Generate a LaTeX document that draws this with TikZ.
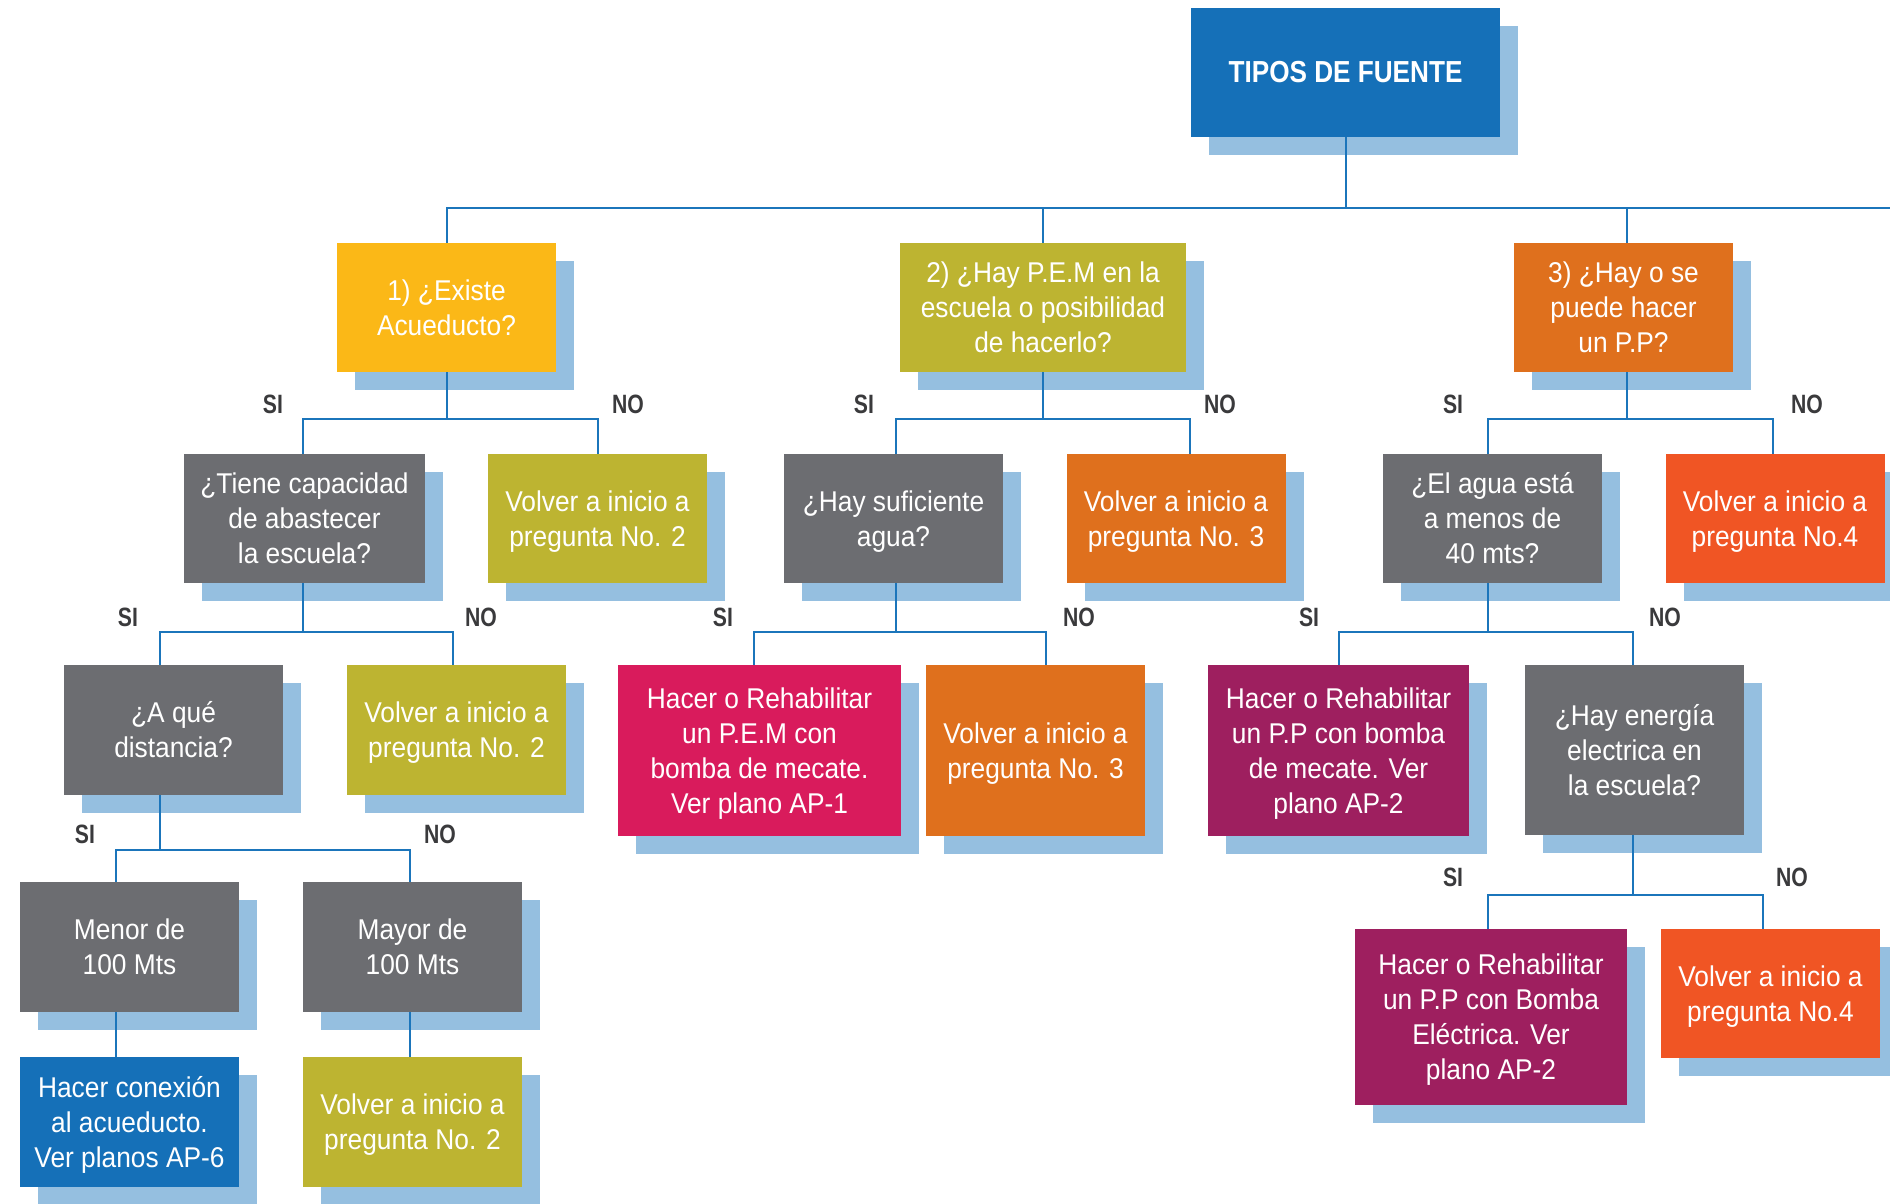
\documentclass[tikz,border=0pt]{standalone}
\usepackage{fontspec}
\setmainfont[FakeStretch=0.92]{Liberation Sans}
\newfontfamily\labfam[FakeStretch=0.8]{Liberation Sans}
\newfontfamily\titfam[FakeStretch=0.86]{Liberation Sans}
\usetikzlibrary{shadows}
\definecolor{cblue}{HTML}{1570B8}
\definecolor{cshadow}{HTML}{95BFE0}
\definecolor{cyellow}{HTML}{FBB817}
\definecolor{colive}{HTML}{BDB431}
\definecolor{corange}{HTML}{DF701D}
\definecolor{cgray}{HTML}{6C6D71}
\definecolor{cred}{HTML}{F05524}
\definecolor{cpink}{HTML}{D91B5C}
\definecolor{cpurple}{HTML}{9E1F5F}
\definecolor{cline}{HTML}{1B75BB}
\definecolor{clab}{HTML}{3A3A3C}
\newcommand\stems[2]{\coordinate (#1t) at ([xshift=#2]#1.north);\coordinate (#1b) at ([xshift=#2]#1.south);}
\begin{document}
\begin{tikzpicture}[x=0.5pt,y=-0.5pt,
  box/.style={rectangle, inner sep=0pt, align=center, text=white,
    font=\fontsize{14.3pt}{17.5pt}\selectfont,
    minimum width=109.5pt, minimum height=64.5pt,
    drop shadow={shadow xshift=9pt, shadow yshift=-9pt, fill=cshadow, opacity=1}},
  conn/.style={draw=cline, line width=1pt},
  lab/.style={inner sep=0pt, text=clab, font=\labfam\bfseries\fontsize{13.25pt}{15pt}\selectfont}]
\useasboundingbox[fill=white] (0,0) rectangle (1890,1204);
% boxes
\node[box, fill=cblue, minimum width=154.5pt, font=\titfam\bfseries\fontsize{15.2pt}{18pt}\selectfont] (tipos) at (1345.5,72.5) {TIPOS DE FUENTE};
\node[box, fill=cyellow] (q1) at (446.5,307.5) {1) ¿Existe\\Acueducto?};
\node[box, fill=colive, minimum width=143pt] (q2) at (1043,307.5) {2) ¿Hay P.E.M en la\\escuela o posibilidad\\de hacerlo?};
\node[box, fill=corange] (q3) at (1623.5,307.5) {3) ¿Hay o se\\puede hacer\\un P.P?};
\node[box, fill=cgray, minimum width=120.5pt] (tiene) at (304.5,518.5) {¿Tiene capacidad\\de abastecer\\la escuela?};
\node[box, fill=colive] (v2a) at (597.5,518.5) {Volver a inicio a\\\smash{pregunta No. 2}};
\node[box, fill=cgray] (suf) at (893.5,518.5) {¿Hay suficiente\\\smash{agua?}};
\node[box, fill=corange] (v3a) at (1176,518.5) {Volver a inicio a\\\smash{pregunta No. 3}};
\node[box, fill=cgray] (agua) at (1492.5,518.5) {¿El agua está\\a menos de\\40 mts?};
\node[box, fill=cred] (v4a) at (1775,518.5) {Volver a inicio a\\\smash{pregunta No.4}};
\node[box, fill=cgray, minimum height=65pt] (dist) at (173.5,730) {¿A qué\\distancia?};
\node[box, fill=colive, minimum height=65pt] (v2b) at (456.5,730) {Volver a inicio a\\\smash{pregunta No. 2}};
\node[box, fill=cpink, minimum width=141.5pt, minimum height=85.5pt] (pem) at (759.5,750.5) {Hacer o Rehabilitar\\un P.E.M con\\bomba de mecate.\\\smash{Ver plano AP-1}};
\node[box, fill=corange, minimum height=85.5pt] (v3b) at (1035.5,750.5) {Volver a inicio a\\\smash{pregunta No. 3}};
\node[box, fill=cpurple, minimum width=130.5pt, minimum height=85.5pt] (ppm) at (1338.5,750.5) {Hacer o Rehabilitar\\un P.P con bomba\\de mecate. Ver\\\smash{plano AP-2}};
\node[box, fill=cgray, minimum height=85pt] (ener) at (1634.5,750) {¿Hay energía\\electrica en\\la escuela?};
\node[box, fill=cgray, minimum height=64.75pt] (menor) at (129.5,946.75) {Menor de\\100 Mts};
\node[box, fill=cgray, minimum height=64.75pt] (mayor) at (412.5,946.75) {Mayor de\\100 Mts};
\node[box, fill=cblue, minimum height=64.75pt] (conex) at (129.5,1121.75) {Hacer conexión\\al acueducto.\\\smash{Ver planos AP-6}};
\node[box, fill=colive, minimum height=64.75pt] (v2c) at (412.5,1121.75) {Volver a inicio a\\\smash{pregunta No. 2}};
\node[box, fill=cpurple, minimum width=136pt, minimum height=87.75pt] (ppe) at (1491,1016.75) {Hacer o Rehabilitar\\un P.P con Bomba\\Eléctrica. Ver\\\smash{plano AP-2}};
\node[box, fill=cred] (v4b) at (1770.5,993.5) {Volver a inicio a\\\smash{pregunta No.4}};
% stems
\stems{tipos}{0pt}\stems{q1}{0pt}\stems{q2}{0pt}\stems{q3}{1.5pt}
\stems{tiene}{-1pt}\stems{v2a}{0pt}\stems{suf}{1pt}\stems{v3a}{7pt}
\stems{agua}{-2.5pt}\stems{v4a}{-1pt}\stems{dist}{-6.6pt}\stems{v2b}{-1.6pt}
\stems{pem}{-3pt}\stems{v3b}{5.4pt}\stems{ppm}{0pt}\stems{ener}{-0.75pt}
\stems{menor}{-6.75pt}\stems{mayor}{-1.5pt}\stems{conex}{-6.75pt}\stems{v2c}{-1.5pt}
\stems{ppe}{-1.75pt}\stems{v4b}{-4pt}
% bus levels
\coordinate (b0) at (0,207.5);
\coordinate (re) at (1890,207.5);
\coordinate (b1) at (0,419);
\coordinate (b2) at (0,631.6);
\coordinate (b3) at (0,849.8);
\coordinate (b4) at (0,894.5);
% connectors
\draw[conn] (tiposb) -- (tiposb |- b0);
\draw[conn] (q1t) |- (re);
\draw[conn] (q2t) -- (q2t |- b0);
\draw[conn] (q3t) -- (q3t |- b0);
\draw[conn] (q1b) -- (q1b |- b1);
\draw[conn] (tienet) |- (v2at |- b1) -- (v2at);
\draw[conn] (q2b) -- (q2b |- b1);
\draw[conn] (suft) |- (v3at |- b1) -- (v3at);
\draw[conn] (q3b) -- (q3b |- b1);
\draw[conn] (aguat) |- (v4at |- b1) -- (v4at);
\draw[conn] (tieneb) -- (tieneb |- b2);
\draw[conn] (distt) |- (v2bt |- b2) -- (v2bt);
\draw[conn] (sufb) -- (sufb |- b2);
\draw[conn] (pemt) |- (v3bt |- b2) -- (v3bt);
\draw[conn] (aguab) -- (aguab |- b2);
\draw[conn] (ppmt) |- (enert |- b2) -- (enert);
\draw[conn] (distb) -- (distb |- b3);
\draw[conn] (menort) |- (mayort |- b3) -- (mayort);
\draw[conn] (menorb) -- (conext);
\draw[conn] (mayorb) -- (v2ct);
\draw[conn] (enerb) -- (enerb |- b4);
\draw[conn] (ppet) |- (v4bt |- b4) -- (v4bt);
% labels
\node[lab] (s1) at (273,404) {SI};
\node[lab] (n1) at (628,404) {NO};
\node[lab] (s2) at (864,404) {SI};
\node[lab] (n2) at (1220,404) {NO};
\node[lab] (s3) at (1453,404) {SI};
\node[lab] (n3) at (1807,404) {NO};
\node[lab] (s4) at (128,617) {SI};
\node[lab] (n4) at (481,617) {NO};
\node[lab] (s5) at (723,617) {SI};
\node[lab] (n5) at (1079,617) {NO};
\node[lab] (s6) at (1309,617) {SI};
\node[lab] (n6) at (1665,617) {NO};
\node[lab] (s7) at (85,834) {SI};
\node[lab] (n7) at (440,834) {NO};
\node[lab] (s8) at (1453,877.5) {SI};
\node[lab] (n8) at (1792,877.5) {NO};
\end{tikzpicture}
\end{document}
